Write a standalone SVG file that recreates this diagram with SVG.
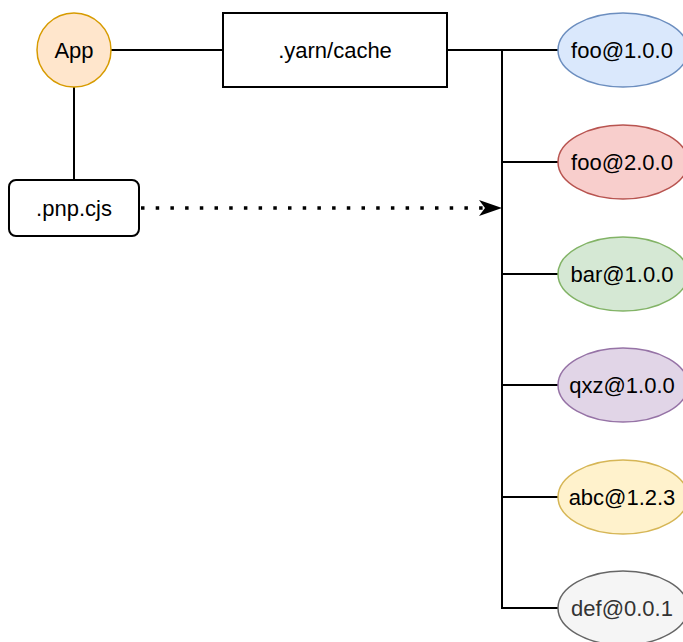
<svg xmlns="http://www.w3.org/2000/svg" width="683" height="642" viewBox="0 0 683 642">
<style>
  text { font-family: "Liberation Sans", Arial, sans-serif; font-size: 22px; fill: #000; text-anchor: middle; dominant-baseline: central; }
  .ln { stroke: #000; stroke-width: 2; fill: none; }
  .el { stroke-width: 1.5; }
</style>
<defs>
  <marker id="arr" markerWidth="24" markerHeight="18" viewBox="0 0 24 18" refX="23" refY="9" orient="auto" markerUnits="userSpaceOnUse">
    <path d="M0,1 L23,9 L0,17 L6,9 Z" fill="#000"/>
  </marker>
</defs>
<rect width="683" height="642" fill="#fff"/>
<g id="connectors">
  <line class="ln" x1="111" y1="50" x2="223" y2="50"/>
  <line class="ln" x1="74" y1="87" x2="74" y2="180"/>
  <line class="ln" x1="447" y1="50" x2="558" y2="50"/>
  <polyline class="ln" points="502,50 502,608 558,608"/>
  <line class="ln" x1="502" y1="162" x2="558" y2="162"/>
  <line class="ln" x1="502" y1="274" x2="558" y2="274"/>
  <line class="ln" x1="502" y1="385" x2="558" y2="385"/>
  <line class="ln" x1="502" y1="497" x2="558" y2="497"/>
  <line x1="141" y1="208" x2="487" y2="208" stroke="#000" stroke-width="3.5" stroke-dasharray="3.5 11.2"/>
  <line x1="480" y1="208" x2="502" y2="208" stroke="none" marker-end="url(#arr)"/>
</g>
<g id="app">
  <circle cx="74" cy="50" r="37" fill="#ffe6cc" stroke="#d79b00" stroke-width="1.5"/>
  <text x="74" y="50">App</text>
</g>
<g id="cache">
  <rect x="223" y="13" width="224" height="74" fill="#fff" stroke="#000" stroke-width="2"/>
  <text x="335" y="50">.yarn/cache</text>
</g>
<g id="pnp">
  <rect x="9" y="180" width="130" height="56" rx="7" fill="#fff" stroke="#000" stroke-width="2"/>
  <text x="74" y="208">.pnp.cjs</text>
</g>
<g id="foo1">
  <ellipse class="el" cx="623" cy="50" rx="65" ry="37" fill="#dae8fc" stroke="#6c8ebf"/>
  <text x="622" y="50">foo@1.0.0</text>
</g>
<g id="foo2">
  <ellipse class="el" cx="623" cy="162" rx="65" ry="37" fill="#f8cecc" stroke="#b85450"/>
  <text x="622" y="162">foo@2.0.0</text>
</g>
<g id="bar">
  <ellipse class="el" cx="623" cy="274" rx="65" ry="37" fill="#d5e8d4" stroke="#82b366"/>
  <text x="622" y="274">bar@1.0.0</text>
</g>
<g id="qxz">
  <ellipse class="el" cx="623" cy="385" rx="65" ry="37" fill="#e1d5e7" stroke="#9673a6"/>
  <text x="622" y="385">qxz@1.0.0</text>
</g>
<g id="abc">
  <ellipse class="el" cx="623" cy="497" rx="65" ry="37" fill="#fff2cc" stroke="#d6b656"/>
  <text x="622" y="497">abc@1.2.3</text>
</g>
<g id="def">
  <ellipse class="el" cx="623" cy="608" rx="65" ry="37" fill="#f5f5f5" stroke="#666666"/>
  <text x="622" y="608" style="fill:#333333">def@0.0.1</text>
</g>
</svg>
